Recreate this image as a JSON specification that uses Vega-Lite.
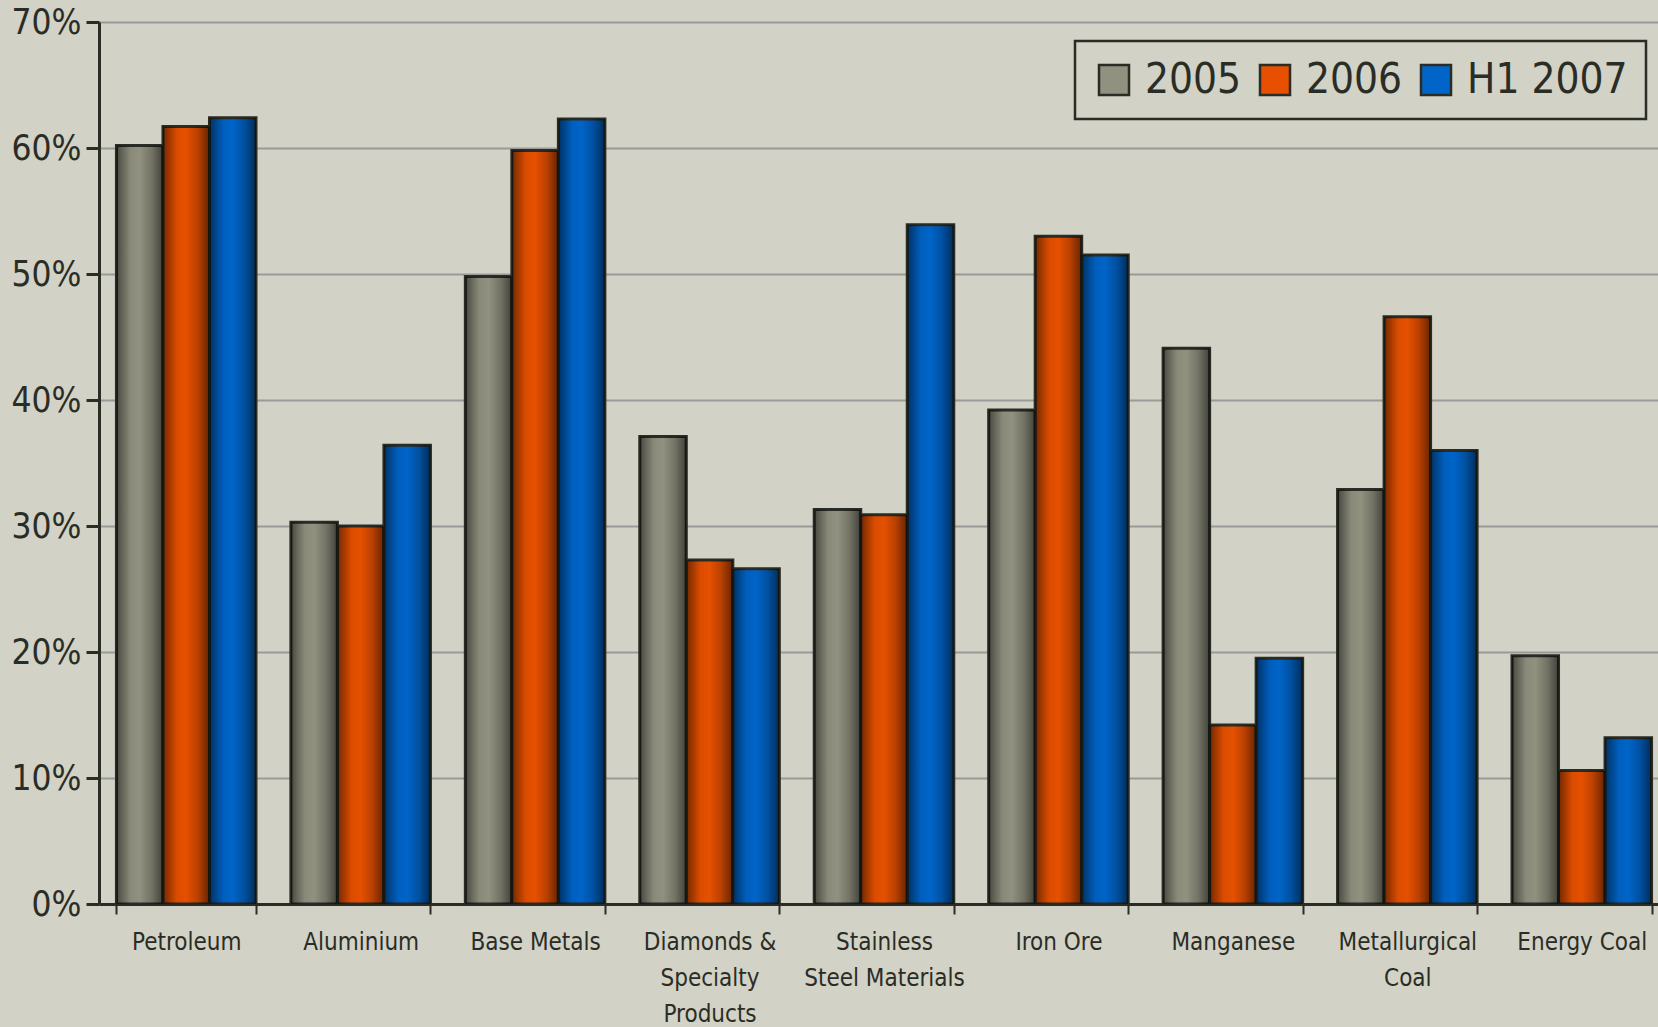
{
  "$schema": "https://vega.github.io/schema/vega-lite/v6.json",
  "autosize": {"type": "none"},
  "width": 1570,
  "height": 882,
  "padding": {"left": 99, "top": 22, "right": 0, "bottom": 123},
  "background": "#d2d2c6",
  "config": {
    "view": {"stroke": null},
    "font": "DejaVu Sans Condensed, sans-serif",
    "legend": {"strokeWidth": 2.5}
  },
  "data": {
    "values": [
      {"category": "Petroleum", "year": "2005", "value": 0.602},
      {"category": "Petroleum", "year": "2006", "value": 0.617},
      {"category": "Petroleum", "year": "H1 2007", "value": 0.624},
      {"category": "Aluminium", "year": "2005", "value": 0.303},
      {"category": "Aluminium", "year": "2006", "value": 0.300},
      {"category": "Aluminium", "year": "H1 2007", "value": 0.364},
      {"category": "Base Metals", "year": "2005", "value": 0.498},
      {"category": "Base Metals", "year": "2006", "value": 0.598},
      {"category": "Base Metals", "year": "H1 2007", "value": 0.623},
      {"category": "Diamonds &|Specialty|Products", "year": "2005", "value": 0.371},
      {"category": "Diamonds &|Specialty|Products", "year": "2006", "value": 0.273},
      {"category": "Diamonds &|Specialty|Products", "year": "H1 2007", "value": 0.266},
      {"category": "Stainless|Steel Materials", "year": "2005", "value": 0.313},
      {"category": "Stainless|Steel Materials", "year": "2006", "value": 0.309},
      {"category": "Stainless|Steel Materials", "year": "H1 2007", "value": 0.539},
      {"category": "Iron Ore", "year": "2005", "value": 0.392},
      {"category": "Iron Ore", "year": "2006", "value": 0.530},
      {"category": "Iron Ore", "year": "H1 2007", "value": 0.515},
      {"category": "Manganese", "year": "2005", "value": 0.441},
      {"category": "Manganese", "year": "2006", "value": 0.142},
      {"category": "Manganese", "year": "H1 2007", "value": 0.195},
      {"category": "Metallurgical|Coal", "year": "2005", "value": 0.329},
      {"category": "Metallurgical|Coal", "year": "2006", "value": 0.466},
      {"category": "Metallurgical|Coal", "year": "H1 2007", "value": 0.360},
      {"category": "Energy Coal", "year": "2005", "value": 0.197},
      {"category": "Energy Coal", "year": "2006", "value": 0.106},
      {"category": "Energy Coal", "year": "H1 2007", "value": 0.132}
    ]
  },
  "encoding": {
    "x": {
      "field": "category",
      "type": "nominal",
      "sort": null,
      "scale": {"paddingInner": 0.2, "paddingOuter": 0.1},
      "axis": {
        "title": null,
        "labelAngle": 0,
        "labelExpr": "split(datum.label, '|')",
        "labelFontSize": 24,
        "labelColor": "#2a2d25",
        "labelLineHeight": 36,
        "labelPadding": 16,
        "labelLimit": 300,
        "labelOverlap": false,
        "tickBand": "extent",
        "tickColor": "#2a2d25",
        "tickWidth": 2,
        "tickSize": 10,
        "domainColor": "#2a2d25",
        "domainWidth": 3,
        "grid": false
      }
    },
    "xOffset": {
      "field": "year",
      "type": "nominal",
      "scale": {"domain": ["2005", "2006", "H1 2007"], "paddingInner": 0, "paddingOuter": 0}
    },
    "y": {
      "field": "value",
      "type": "quantitative",
      "scale": {"domain": [0, 0.7]},
      "axis": {
        "title": null,
        "format": ".0%",
        "values": [0, 0.1, 0.2, 0.3, 0.4, 0.5, 0.6, 0.7],
        "labelFontSize": 35,
        "labelColor": "#2a2d25",
        "labelPadding": 5,
        "labelFlush": false,
        "tickColor": "#2a2d25",
        "tickWidth": 3,
        "tickSize": 13,
        "domainColor": "#2a2d25",
        "domainWidth": 3,
        "grid": true,
        "gridColor": "#9a9a98",
        "gridWidth": 2
      }
    }
  },
  "layer": [
    {
      "mark": {"type": "bar", "stroke": "#2a2d25", "strokeWidth": 3},
      "encoding": {
        "color": {
          "field": "year",
          "type": "nominal",
          "scale": {"domain": ["2005", "2006", "H1 2007"], "range": ["#919180", "#e65000", "#0064c8"]},
          "legend": {
            "title": null,
            "orient": "none",
            "legendX": 976,
            "legendY": 19,
            "direction": "horizontal",
            "symbolType": "square",
            "symbolSize": 900,
            "symbolStrokeColor": "#2a2d25",
            "symbolStrokeWidth": 2.5,
            "labelFontSize": 42,
            "labelColor": "#2a2d25",
            "labelLimit": 400,
            "columnPadding": 12,
            "labelOffset": 10,
            "padding": 18,
            "fillColor": "#d2d2c6",
            "strokeColor": "#2a2d25"
          }
        }
      }
    },
    {
      "mark": {
        "type": "bar",
        "strokeWidth": 0,
        "fill": {
          "gradient": "linear",
          "x1": 0, "y1": 0, "x2": 1, "y2": 0,
          "stops": [
            {"offset": 0, "color": "rgba(0,0,0,0.5)"},
            {"offset": 0.3, "color": "rgba(0,0,0,0.05)"},
            {"offset": 0.5, "color": "rgba(0,0,0,0)"},
            {"offset": 0.75, "color": "rgba(0,0,0,0.2)"},
            {"offset": 1, "color": "rgba(0,0,0,0.55)"}
          ]
        }
      }
    }
  ]
}
